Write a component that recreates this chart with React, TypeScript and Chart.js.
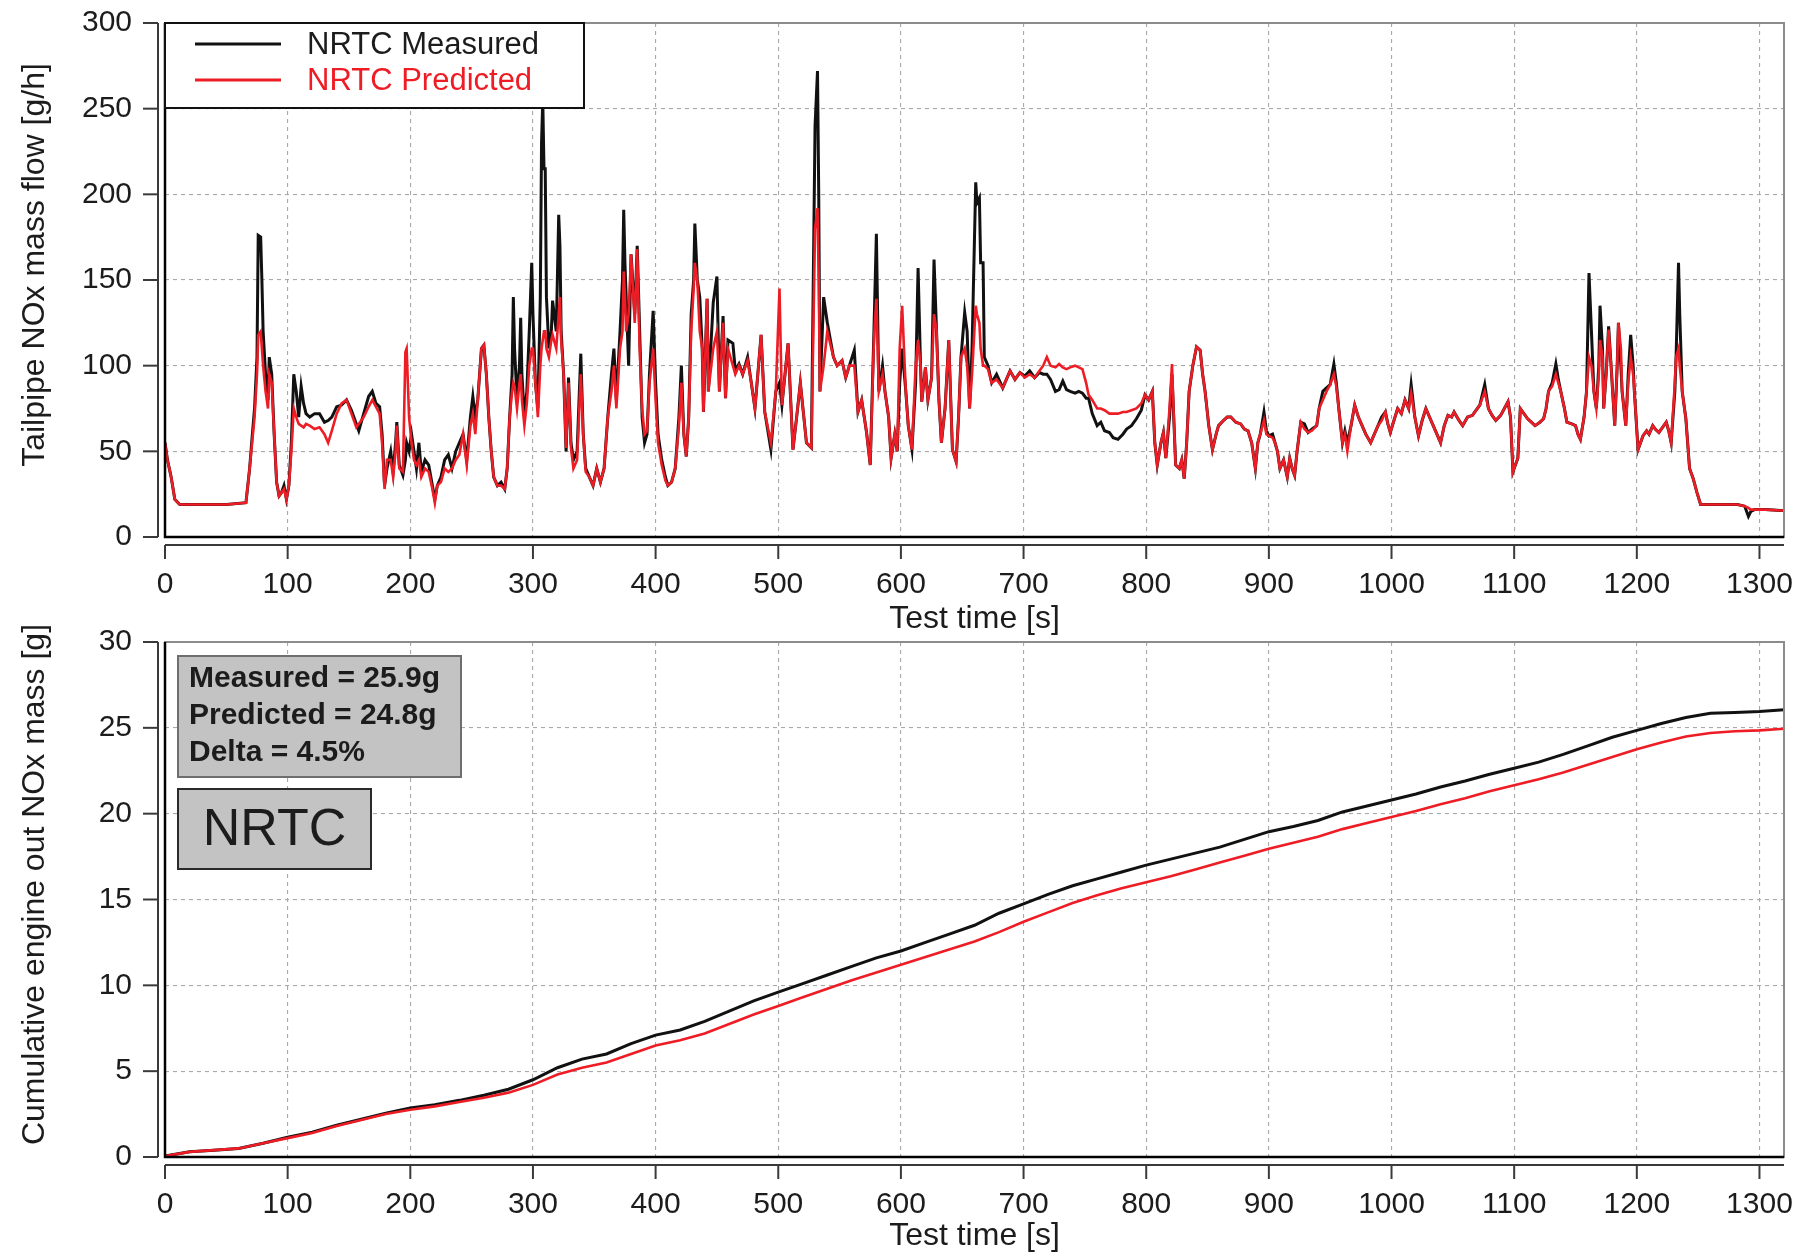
import React, { useEffect, useRef } from "react";
import { Chart, registerables } from "chart.js";
Chart.register(...registerables);

// ---------------- data ----------------
const FLOW_TIME = [
  0, 2, 5, 8, 12, 30, 50, 66, 69, 71, 73, 75, 76, 78, 79, 80, 82, 84, 85, 87, 89, 91, 93, 95, 97, 99,
  101, 103, 105, 107, 109, 111, 113, 115, 118, 122, 126, 130, 133, 136, 140, 144, 148, 152, 156, 158,
  162, 166, 169, 172, 175, 177, 179, 181, 184, 186, 188, 189, 191, 194, 196, 197, 199, 201, 203, 205,
  207, 209, 212, 215, 218, 220, 222, 225, 228, 231, 234, 237, 240, 243, 246, 249, 251, 253, 255, 258,
  260, 262, 264, 266, 268, 271, 274, 277, 279, 281, 283, 284, 285, 287, 289, 290, 291, 293, 295, 297,
  299, 300, 302, 304, 306, 307, 308, 309, 310, 311, 313, 315, 316, 319, 321, 322, 323, 325, 327, 329,
  331, 333, 336, 339, 341, 343, 346, 349, 352, 355, 358, 361, 364, 366, 368, 371, 373, 374, 375, 376,
  378, 380, 383, 385, 387, 389, 391, 393, 395, 398, 400, 402, 405, 408, 410, 413, 416, 419, 421, 423,
  425, 427, 429, 431, 432, 434, 436, 438, 439, 442, 443, 447, 450, 452, 455, 457, 459, 463, 465, 468,
  471, 475, 478, 481, 486, 489, 494, 498, 501, 503, 508, 512, 515, 518, 523, 527, 530, 532, 533, 534,
  537, 540, 545, 548, 552, 555, 558, 562, 565, 568, 572, 575, 578, 580, 582, 585, 587, 590, 592, 595,
  597, 599, 601, 604, 606, 609, 612, 614, 616, 617, 620, 622, 625, 627, 629, 631, 633, 636, 639, 642,
  645, 647, 649, 652, 654, 656, 658, 661, 662, 664, 665, 667, 668, 671, 674, 678, 683, 686, 689, 693,
  697, 701, 705, 709, 713, 716, 719, 722, 726, 729, 732, 735, 738, 742, 745, 748, 751, 753, 756, 760,
  763, 766, 770, 773, 777, 781, 784, 788, 792, 796, 799, 802, 805, 807, 809, 812, 814, 816, 819, 821,
  823, 824, 827, 829, 831, 833, 835, 838, 841, 844, 846, 848, 851, 854, 857, 859, 863, 866, 869, 873,
  877, 880, 883, 886, 889, 891, 893, 896, 898, 900, 903, 905, 907, 909, 912, 915, 917, 919, 921, 923,
  926, 929, 932, 935, 939, 941, 944, 947, 950, 953, 955, 957, 960, 962, 964, 967, 970, 973, 976, 979,
  983, 986, 989, 992, 995, 997, 999, 1002, 1005, 1008, 1011, 1014, 1016, 1019, 1022, 1025, 1028, 1031,
  1034, 1037, 1040, 1043, 1046, 1049, 1051, 1055, 1058, 1062, 1066, 1069, 1072, 1076, 1079, 1082, 1085,
  1089, 1092, 1095, 1097, 1099, 1101, 1103, 1105, 1108, 1111, 1114, 1117, 1121, 1124, 1126, 1128, 1131,
  1134, 1136, 1138, 1141, 1143, 1147, 1150, 1152, 1154, 1157, 1159, 1161, 1163, 1165, 1167, 1169, 1170,
  1172, 1173, 1175, 1177, 1179, 1182, 1184, 1185, 1187, 1188, 1191, 1193, 1195, 1197, 1198, 1201, 1203,
  1205, 1208, 1210, 1213, 1215, 1218, 1221, 1224, 1226, 1228, 1231, 1232, 1234, 1235, 1237, 1240, 1243,
  1246, 1249, 1252, 1262, 1272, 1282, 1288, 1291, 1293, 1296, 1305, 1317, 1320,
];

const FLOW_MEASURED = [
  55, 45, 35, 22, 19, 19, 19, 20, 40, 58, 75, 105, 176, 175, 150, 120, 95, 80, 105, 95, 60, 32, 24, 26, 30, 22,
  30, 55, 95, 85, 70, 88, 78, 72, 70, 72, 72, 67, 68, 70, 76, 77, 80, 74, 66, 62,
  72, 82, 85, 78, 76, 60, 30, 40, 50, 38, 55, 67, 42, 36, 45, 55, 50, 60, 50, 40,
  55, 38, 45, 42, 30, 22, 30, 35, 45, 48, 40, 50, 55, 60, 45, 70, 82, 70, 80, 110,
  112, 95, 70, 50, 35, 30, 32, 28, 40, 70, 95, 140, 110, 80, 100, 128, 95, 70, 85, 120,
  160, 130, 90, 75, 140, 230, 255, 215, 215, 140, 110, 120, 138, 120, 188, 170, 120, 95, 50, 93,
  55, 45, 50, 107, 60, 40, 35, 30, 40, 32, 40, 70, 95, 110, 80, 120, 150, 191, 160, 140,
  100, 165, 130, 170, 120, 70, 55, 60, 95, 132, 90, 60, 45, 35, 30, 32, 40, 70, 100, 60,
  47, 70, 130, 150, 183, 150, 140, 110, 73, 139, 85, 137, 152, 85, 129, 81, 115, 113, 97, 101,
  95, 105, 90, 75, 118, 73, 51, 85, 90, 77, 113, 51, 70, 90, 55, 52, 240, 272, 200, 85,
  140, 125, 105, 100, 103, 93, 100, 109, 73, 80, 61, 42, 120, 177, 85, 100, 85, 70, 46, 60,
  50, 90, 110, 85, 65, 51, 90, 157, 100, 79, 99, 80, 93, 162, 121, 80, 55, 75, 115, 51,
  44, 70, 105, 131, 120, 75, 110, 207, 195, 198, 160, 160, 105, 100, 90, 95, 87, 92, 97, 92,
  96, 94, 97, 93, 96, 95, 95, 92, 85, 86, 91, 86, 85, 84, 85, 84, 81, 81, 72, 65,
  67, 62, 61, 58, 57, 60, 63, 65, 69, 74, 83, 80, 85, 55, 42, 55, 61, 46, 70, 95,
  60, 42, 40, 45, 34, 55, 85, 100, 111, 109, 95, 85, 65, 51, 60, 65, 68, 70, 70, 67,
  66, 63, 62, 55, 40, 55, 60, 73, 62, 59, 60, 55, 50, 40, 45, 35, 46, 40, 36, 50,
  67, 66, 61, 63, 65, 75, 85, 87, 89, 101, 90, 75, 55, 62, 55, 65, 77, 70, 65, 60,
  55, 60, 65, 70, 73, 66, 61, 68, 75, 72, 80, 75, 89, 70, 59, 68, 75, 70,
  65, 60, 55, 65, 71, 70, 73, 68, 65, 70, 71, 74, 77, 89, 75, 71, 68,
  71, 75, 79, 70, 38, 42, 46, 75, 72, 69, 67, 65, 67, 69, 75, 85, 90,
  101, 92, 85, 75, 67, 66, 65, 60, 57, 70, 85, 154, 120, 85, 75, 100, 135,
  110, 75, 95, 123, 100, 65, 100, 125, 100, 85, 65, 95, 118, 100, 85, 51, 55,
  59, 62, 60, 65, 63, 61, 64, 67, 62, 55, 85, 105, 160, 130, 85, 69, 40,
  34, 26, 19, 19, 19, 19, 18, 12, 15, 16, 16, 15.5, 15.5,
];

const FLOW_PREDICTED = [
  55, 45, 35, 22, 19, 19, 19, 20, 40, 55, 70, 95, 118, 120, 110, 100, 85, 75, 95, 90, 60, 32, 24, 26, 28, 22,
  30, 50, 75, 70, 66, 65, 64, 66, 65, 63, 64, 60, 55, 62, 72, 78, 80, 72, 64, 66,
  70, 76, 80, 76, 72, 55, 28, 45, 45, 35, 50, 65, 40, 38, 108, 110, 70, 55, 45, 42,
  45, 35, 40, 38, 28, 20, 30, 32, 40, 38, 40, 45, 48, 60, 42, 65, 72, 60, 80, 110,
  112, 95, 70, 50, 35, 30, 30, 28, 40, 70, 85, 90, 88, 75, 90, 95, 80, 65, 78, 100,
  110, 110, 90, 70, 100, 110, 115, 120, 120, 110, 105, 115, 118, 110, 130, 140, 115, 95, 52, 90,
  52, 40, 45, 95, 60, 38, 35, 30, 40, 32, 40, 70, 85, 100, 75, 110, 120, 155, 140, 120,
  130, 165, 125, 168, 110, 75, 60, 62, 90, 110, 80, 55, 42, 33, 30, 32, 40, 65, 90, 60,
  47, 70, 120, 145, 160, 150, 120, 110, 73, 139, 85, 110, 120, 85, 125, 81, 110, 100, 95, 100,
  95, 103, 90, 75, 118, 73, 55, 85, 145, 77, 113, 51, 70, 90, 55, 52, 180, 192, 150, 85,
  100, 120, 105, 100, 103, 93, 100, 100, 73, 80, 61, 42, 115, 139, 85, 95, 85, 70, 46, 60,
  50, 110, 135, 85, 65, 51, 100, 115, 100, 79, 99, 80, 93, 130, 121, 80, 55, 75, 115, 51,
  44, 70, 105, 110, 100, 75, 95, 135, 130, 125, 110, 100, 100, 98, 90, 92, 87, 92, 97, 92,
  96, 93, 95, 93, 97, 100, 105, 100, 99, 101, 99, 98, 99, 100, 99, 98, 90, 83, 80, 75,
  75, 74, 72, 72, 72, 73, 73, 74, 75, 78, 83, 80, 85, 55, 42, 55, 61, 46, 75, 101,
  60, 42, 40, 45, 34, 55, 85, 100, 111, 109, 95, 85, 65, 51, 60, 65, 68, 70, 70, 67,
  66, 63, 62, 55, 40, 55, 60, 68, 60, 59, 58, 55, 50, 40, 45, 35, 46, 40, 36, 50,
  67, 63, 61, 62, 65, 75, 80, 85, 89, 95, 88, 75, 55, 60, 50, 65, 77, 70, 65, 60,
  55, 60, 65, 68, 73, 66, 61, 68, 75, 72, 80, 75, 84, 70, 59, 68, 75, 70,
  65, 60, 55, 65, 71, 70, 73, 68, 65, 70, 71, 74, 77, 85, 75, 71, 68,
  71, 75, 79, 70, 38, 42, 46, 75, 72, 69, 67, 65, 67, 69, 75, 85, 88,
  95, 90, 85, 75, 67, 66, 65, 60, 57, 70, 85, 105, 100, 85, 75, 95, 115,
  105, 75, 95, 121, 100, 65, 100, 125, 110, 85, 65, 90, 105, 95, 85, 51, 55,
  59, 62, 60, 65, 63, 61, 64, 67, 62, 55, 90, 105, 110, 100, 85, 69, 40,
  34, 26, 19, 19, 19, 19, 18, 17, 16, 16, 16, 15.5, 15.5,
];

const CUM_TIME = [
  0, 20, 40, 60, 80, 100, 120, 140, 160, 180, 200, 220, 240, 260, 280, 300, 320, 340, 360, 380,
  400, 420, 440, 460, 480, 500, 520, 540, 560, 580, 600, 620, 640, 660, 680, 700, 720, 740, 760, 780,
  800, 820, 840, 860, 880, 900, 920, 940, 960, 980, 1000, 1020, 1040, 1060, 1080, 1100, 1120, 1140,
  1160, 1180, 1200, 1220, 1240, 1260, 1280, 1300, 1320,
];
const CUM_MEASURED = [
  0.05, 0.3, 0.4, 0.5, 0.8, 1.15, 1.45, 1.85, 2.2, 2.55, 2.85, 3.05, 3.3, 3.6, 3.95, 4.5, 5.2, 5.7, 6.0, 6.6,
  7.1, 7.4, 7.9, 8.5, 9.1, 9.6, 10.1, 10.6, 11.1, 11.6, 12.0, 12.5, 13.0, 13.5, 14.2, 14.75, 15.3, 15.8, 16.2, 16.6,
  17.0, 17.35, 17.7, 18.05, 18.5, 18.95, 19.25, 19.6, 20.1, 20.45, 20.8, 21.15, 21.55, 21.9, 22.3, 22.65, 23.0, 23.45,
  23.95, 24.45, 24.85, 25.25, 25.6, 25.85, 25.9, 25.95, 26.05,
];
const CUM_PREDICTED = [
  0.05, 0.3, 0.4, 0.5, 0.8, 1.1, 1.4, 1.8, 2.15, 2.5, 2.75, 2.95, 3.2, 3.45, 3.75, 4.2, 4.8, 5.2, 5.5, 6.0,
  6.5, 6.8, 7.2, 7.75, 8.3, 8.8, 9.3, 9.8, 10.3, 10.75, 11.2, 11.65, 12.1, 12.55, 13.1, 13.7, 14.25, 14.8, 15.25, 15.65,
  16.0, 16.35, 16.75, 17.15, 17.55, 17.95, 18.3, 18.65, 19.1, 19.45, 19.8, 20.15, 20.55, 20.9, 21.3, 21.65, 22.0, 22.4,
  22.85, 23.3, 23.75, 24.15, 24.5, 24.7, 24.8, 24.85, 24.95,
];

const X_TICKS = [0, 100, 200, 300, 400, 500, 600, 700, 800, 900, 1000, 1100, 1200, 1300];
const FLOW_TICKS = [0, 50, 100, 150, 200, 250, 300];
const CUM_TICKS = [0, 5, 10, 15, 20, 25, 30];
const SERIES_LABELS = ["NRTC Measured", "NRTC Predicted"];
const SUMMARY_LINES = ["Measured = 25.9g", "Predicted = 24.8g", "Delta = 4.5%"];
const CYCLE_LABEL = "NRTC";
const X_TITLE = "Test time [s]";
const FLOW_TITLE = "Tailpipe NOx mass flow [g/h]";
const CUM_TITLE = "Cumulative engine out NOx mass [g]";

// ---------------- styling ----------------
const FONT = "'Liberation Sans', Arial, Helvetica, sans-serif";
const BLACK = "#111111";
const RED = "#ee1c24";
const TEXT = "#1c1c1c";
const GRID = "#a9a9a9";
const AXIS = "#3a3a3a";
const W = 1799;

const toXY = (xs: number[], ys: number[]) => xs.map((x, i) => ({ x, y: ys[i] }));

function makeFrame(yTitle: string) {
  return {
    id: "rframe",
    afterDraw(chart: any) {
      const { ctx, chartArea: a, scales } = chart;
      const xs = scales.x;
      const ys = scales.y;
      ctx.save();
      ctx.setLineDash([]);
      // plot box
      ctx.strokeStyle = "#8c8c8c";
      ctx.lineWidth = 2;
      ctx.strokeRect(a.left, a.top, a.right - a.left, a.bottom - a.top);
      ctx.strokeStyle = "#000";
      ctx.lineWidth = 2.5;
      ctx.beginPath();
      ctx.moveTo(a.left, a.top);
      ctx.lineTo(a.left, a.bottom);
      ctx.lineTo(a.right, a.bottom);
      ctx.stroke();
      // offset axes (R style)
      ctx.strokeStyle = AXIS;
      ctx.lineWidth = 2;
      const ax = a.left - 7;
      const yTop = ys.getPixelForValue(ys.max);
      const yBot = ys.getPixelForValue(ys.min);
      ctx.beginPath();
      ctx.moveTo(ax, yTop);
      ctx.lineTo(ax, yBot);
      ctx.stroke();
      for (const t of ys.ticks) {
        const py = ys.getPixelForValue(t.value);
        ctx.beginPath();
        ctx.moveTo(ax, py);
        ctx.lineTo(ax - 15, py);
        ctx.stroke();
      }
      const ay = a.bottom + 8;
      ctx.beginPath();
      ctx.moveTo(xs.getPixelForValue(xs.min), ay);
      ctx.lineTo(xs.getPixelForValue(xs.max), ay);
      ctx.stroke();
      for (const t of xs.ticks) {
        const px = xs.getPixelForValue(t.value);
        ctx.beginPath();
        ctx.moveTo(px, ay);
        ctx.lineTo(px, ay + 14);
        ctx.stroke();
      }
      // y axis title
      ctx.translate(35, (a.top + a.bottom) / 2 - 15);
      ctx.rotate(-Math.PI / 2);
      ctx.fillStyle = TEXT;
      ctx.font = `32px ${FONT}`;
      ctx.textAlign = "center";
      ctx.textBaseline = "middle";
      ctx.fillText(yTitle, 0, 0);
      ctx.restore();
    },
  };
}

const legendPlugin = {
  id: "boxlegend",
  afterDraw(chart: any) {
    const { ctx, chartArea: a } = chart;
    ctx.save();
    ctx.setLineDash([]);
    ctx.fillStyle = "#ffffff";
    ctx.fillRect(a.left, a.top, 419, 85);
    ctx.strokeStyle = "#111";
    ctx.lineWidth = 2;
    ctx.strokeRect(a.left, a.top, 419, 85);
    const colors = [BLACK, RED];
    const rows = [21, 57];
    ctx.font = `31px ${FONT}`;
    ctx.textBaseline = "middle";
    ctx.textAlign = "left";
    SERIES_LABELS.forEach((lab, i) => {
      ctx.strokeStyle = colors[i];
      ctx.lineWidth = 2.8;
      ctx.beginPath();
      ctx.moveTo(a.left + 30, a.top + rows[i]);
      ctx.lineTo(a.left + 116, a.top + rows[i]);
      ctx.stroke();
      ctx.fillStyle = i === 0 ? TEXT : RED;
      ctx.fillText(lab, a.left + 142, a.top + rows[i] + 1);
    });
    ctx.restore();
  },
};

const notePlugin = {
  id: "notes",
  afterDraw(chart: any) {
    const { ctx, chartArea: a } = chart;
    ctx.save();
    ctx.setLineDash([]);
    const bx = a.left + 13;
    const by = a.top + 14;
    ctx.fillStyle = "#c3c3c3";
    ctx.fillRect(bx, by, 283, 121);
    ctx.strokeStyle = "#6e6e6e";
    ctx.lineWidth = 2;
    ctx.strokeRect(bx, by, 283, 121);
    ctx.fillStyle = TEXT;
    ctx.font = `bold 30px ${FONT}`;
    ctx.textBaseline = "middle";
    ctx.textAlign = "left";
    SUMMARY_LINES.forEach((s, i) => ctx.fillText(s, bx + 11, by + 23 + i * 37));
    const cy = a.top + 147;
    ctx.fillStyle = "#c3c3c3";
    ctx.fillRect(bx, cy, 193, 80);
    ctx.strokeStyle = "#2a2a2a";
    ctx.lineWidth = 2;
    ctx.strokeRect(bx, cy, 193, 80);
    ctx.fillStyle = TEXT;
    ctx.font = `52px ${FONT}`;
    ctx.textAlign = "center";
    ctx.fillText(CYCLE_LABEL, bx + 96.5, cy + 42);
    ctx.restore();
  },
};

function makeOptions(opts: { yMin: number; yMax: number; yTicks: number[]; padTop: number; xHeight: number }) {
  return {
    animation: false as const,
    responsive: false,
    maintainAspectRatio: false,
    events: [] as any[],
    layout: { padding: { left: 0, right: 15, top: opts.padTop, bottom: 0 } },
    plugins: { legend: { display: false }, tooltip: { enabled: false }, title: { display: false } },
    elements: { point: { radius: 0 }, line: { tension: 0 } },
    scales: {
      x: {
        type: "linear" as const,
        min: 0,
        max: 1320,
        afterBuildTicks: (s: any) => { s.ticks = X_TICKS.map((v) => ({ value: v })); },
        afterFit: (s: any) => { s.height = opts.xHeight; s.paddingLeft = 0; s.paddingRight = 0; },
        grid: { color: GRID, lineWidth: 1.1, drawTicks: false },
        border: { display: false, dash: [4, 4] },
        ticks: { color: TEXT, font: { size: 30, family: FONT }, padding: 30, maxRotation: 0, autoSkip: false, callback: (v: any) => String(v) },
        title: { display: true, text: X_TITLE, color: TEXT, font: { size: 32, family: FONT }, padding: { top: 0, bottom: 0 } },
      },
      y: {
        type: "linear" as const,
        min: opts.yMin,
        max: opts.yMax,
        afterBuildTicks: (s: any) => { s.ticks = opts.yTicks.map((v) => ({ value: v })); },
        afterFit: (s: any) => { s.width = 165; s.paddingTop = 0; s.paddingBottom = 0; },
        grid: { color: GRID, lineWidth: 1.1, drawTicks: false },
        border: { display: false, dash: [4, 4] },
        ticks: { color: TEXT, font: { size: 30, family: FONT }, padding: 33, callback: (v: any) => String(v) },
      },
    },
  };
}

function ChartCanvas(props: { top: number; height: number; build: (c: HTMLCanvasElement) => Chart }) {
  const ref = useRef<HTMLCanvasElement | null>(null);
  useEffect(() => {
    if (!ref.current) return;
    const chart = props.build(ref.current);
    return () => chart.destroy();
  }, []);
  return (
    <canvas
      ref={ref}
      width={W}
      height={props.height}
      style={{ position: "absolute", left: 0, top: props.top, width: W, height: props.height }}
    />
  );
}

export default function App() {
  Chart.defaults.font.family = FONT;

  const buildFlow = (c: HTMLCanvasElement) =>
    new Chart(c, {
      type: "line",
      data: {
        datasets: [
          { label: SERIES_LABELS[1], data: toXY(FLOW_TIME, FLOW_PREDICTED), borderColor: RED, borderWidth: 2.6, order: 0 },
          { label: SERIES_LABELS[0], data: toXY(FLOW_TIME, FLOW_MEASURED), borderColor: BLACK, borderWidth: 3, order: 1 },
        ],
      },
      options: makeOptions({ yMin: 0, yMax: 300, yTicks: FLOW_TICKS, padTop: 23, xHeight: 101 }) as any,
      plugins: [makeFrame(FLOW_TITLE), legendPlugin],
    });

  const buildCum = (c: HTMLCanvasElement) =>
    new Chart(c, {
      type: "line",
      data: {
        datasets: [
          { label: SERIES_LABELS[1], data: toXY(CUM_TIME, CUM_PREDICTED), borderColor: RED, borderWidth: 2.6, order: 0 },
          { label: SERIES_LABELS[0], data: toXY(CUM_TIME, CUM_MEASURED), borderColor: BLACK, borderWidth: 3, order: 1 },
        ],
      },
      options: makeOptions({ yMin: 0, yMax: 30, yTicks: CUM_TICKS, padTop: 32, xHeight: 98 }) as any,
      plugins: [makeFrame(CUM_TITLE), notePlugin],
    });

  return (
    <div style={{ position: "absolute", left: 0, top: 0, width: W, height: 1257, background: "#fff", overflow: "hidden" }}>
      <ChartCanvas top={0} height={638} build={buildFlow} />
      <ChartCanvas top={610} height={645} build={buildCum} />
    </div>
  );
}
